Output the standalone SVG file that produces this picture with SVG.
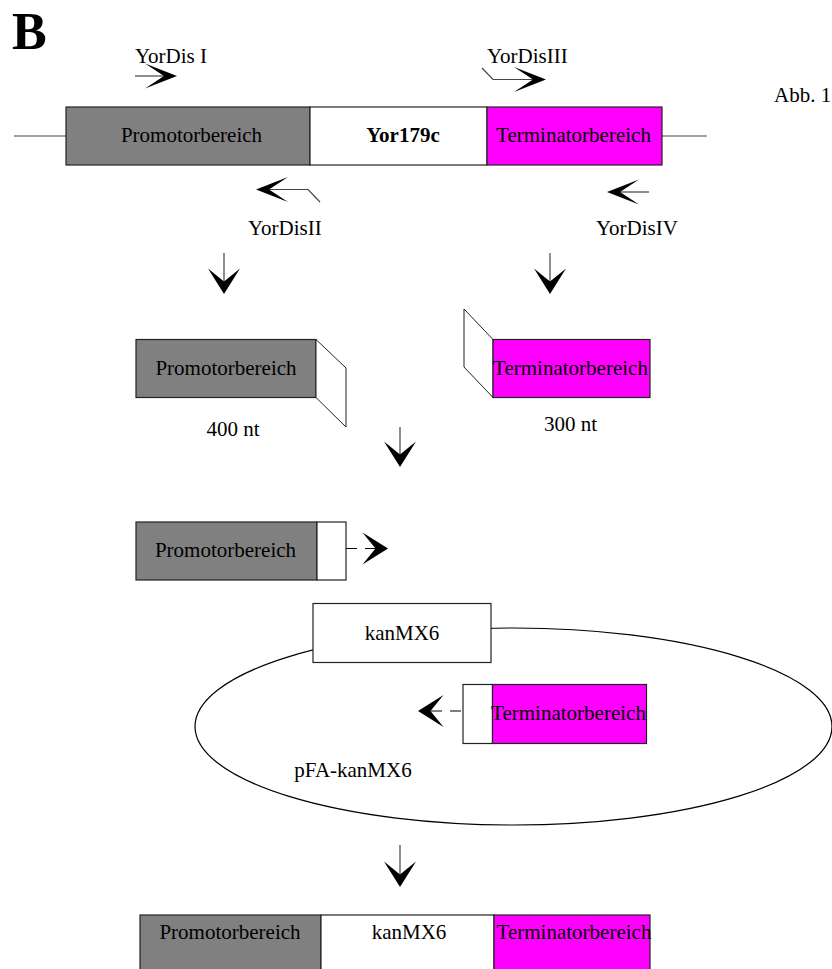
<svg xmlns="http://www.w3.org/2000/svg" xmlns:xlink="http://www.w3.org/1999/xlink" width="832" height="969" viewBox="0 0 832 969">
<style>
  text { font-family: "Liberation Serif", "Times New Roman", serif; font-size: 21px; fill: #000; }
  .bold { font-weight: bold; }
  .mid { text-anchor: middle; }
  .box { stroke: #222; stroke-width: 1.2; }
  .prom { fill: #808080; }
  .term { fill: #FF00FF; }
  .white { fill: #FFFFFF; }
  .line { stroke: #444; stroke-width: 1.2; fill: none; }
  .dash { stroke: #000; stroke-width: 1.2; fill: none; stroke-dasharray: 11 8; }
  .head { fill: #000; stroke: none; }
  .flap { fill: #FFFFFF; stroke: #222; stroke-width: 1; }
</style>
<defs>
  <polygon id="primerHead" class="head" points="0,0 -32,-12.5 -13,0 -32,12.5"/>
  <polygon id="stepHead" class="head" points="0,0 -25.5,-16 -12.5,0 -25.5,16"/>
</defs>
<rect width="832" height="969" fill="#FFFFFF"/>

<text x="12" y="49" class="bold" style="font-size:52px">B</text>
<text x="774" y="102">Abb. 1</text>

<g id="connectors">
  <!-- primer arrows -->
  <line class="line" x1="135" y1="76" x2="165" y2="76"/>
  <use xlink:href="#primerHead" transform="translate(177,76)"/>
  <polyline class="line" points="320,202 308,189.5 268,189.5"/>
  <use xlink:href="#primerHead" transform="translate(256,189.5) rotate(180)"/>
  <polyline class="line" points="482,68 493,79.5 534,79.5"/>
  <use xlink:href="#primerHead" transform="translate(546,79.5)"/>
  <line class="line" x1="649" y1="192" x2="619" y2="192"/>
  <use xlink:href="#primerHead" transform="translate(607,192) rotate(180)"/>
  <!-- main line ends -->
  <line class="line" x1="14" y1="136" x2="66" y2="136"/>
  <line class="line" x1="662" y1="136" x2="707" y2="136"/>
  <!-- step arrows down -->
  <line class="line" x1="224" y1="253" x2="224" y2="284"/>
  <use xlink:href="#stepHead" transform="translate(224,294) rotate(90)"/>
  <line class="line" x1="550" y1="253" x2="550" y2="284"/>
  <use xlink:href="#stepHead" transform="translate(550,294) rotate(90)"/>
  <line class="line" x1="400" y1="427" x2="400" y2="457"/>
  <use xlink:href="#stepHead" transform="translate(400,467) rotate(90)"/>
  <line class="line" x1="400" y1="845" x2="400" y2="877"/>
  <use xlink:href="#stepHead" transform="translate(400,887) rotate(90)"/>
  <!-- dashed arrows -->
  <line class="dash" x1="346" y1="548.5" x2="380" y2="548.5"/>
  <use xlink:href="#stepHead" transform="translate(388,548.5)"/>
  <line class="dash" x1="461" y1="711" x2="426" y2="711"/>
  <use xlink:href="#stepHead" transform="translate(418,711) rotate(180)"/>
</g>

<g id="plasmid">
  <ellipse class="line" cx="513.5" cy="726.5" rx="318.5" ry="98.5" style="stroke:#000"/>
  <text x="353" y="777" class="mid">pFA-kanMX6</text>
</g>

<g id="gene-locus">
  <rect class="box prom" x="66" y="107" width="244" height="58"/>
  <rect class="box white" x="310" y="107" width="177" height="58"/>
  <rect class="box term" x="487" y="107" width="175" height="58"/>
  <text x="191.5" y="142" class="mid">Promotorbereich</text>
  <text x="403" y="142" class="mid bold">Yor179c</text>
  <text x="573.5" y="142" class="mid">Terminatorbereich</text>
</g>

<g id="primer-labels">
  <text x="135" y="63">YorDis I</text>
  <text x="487" y="63">YorDisIII</text>
  <text x="248" y="235">YorDisII</text>
  <text x="596" y="235">YorDisIV</text>
</g>

<g id="pcr-promoter">
  <rect class="box prom" x="136" y="339.5" width="180" height="58"/>
  <polygon class="flap" points="316,339.5 346,368 346,427 316,397.5"/>
  <text x="226" y="375" class="mid">Promotorbereich</text>
  <text x="233" y="436" class="mid">400 nt</text>
</g>

<g id="pcr-terminator">
  <polygon class="flap" points="464,309 493,339.5 493,397.5 464,367"/>
  <rect class="box term" x="493" y="339.5" width="157" height="58"/>
  <text x="570.5" y="375" class="mid">Terminatorbereich</text>
  <text x="570.5" y="431" class="mid">300 nt</text>
</g>

<g id="promoter-fragment">
  <rect class="box prom" x="136" y="522" width="181" height="58"/>
  <rect class="box white" x="317" y="522" width="29" height="58"/>
  <text x="225.5" y="557" class="mid">Promotorbereich</text>
</g>

<g id="kanMX6">
  <rect class="box white" x="313" y="603.5" width="178" height="59"/>
  <text x="402" y="640" class="mid">kanMX6</text>
</g>

<g id="terminator-fragment">
  <rect class="box white" x="463" y="684.5" width="29.5" height="59"/>
  <rect class="box term" x="492.5" y="684.5" width="154" height="59"/>
  <text x="568.5" y="720" class="mid">Terminatorbereich</text>
</g>

<g id="result-locus">
  <rect class="box prom" x="140" y="915" width="181" height="60"/>
  <rect class="box white" x="321" y="915" width="173" height="60"/>
  <rect class="box term" x="494" y="915" width="156" height="60"/>
  <text x="230" y="939" class="mid">Promotorbereich</text>
  <text x="409" y="939" class="mid">kanMX6</text>
  <text x="574" y="939" class="mid">Terminatorbereich</text>
</g>
</svg>
